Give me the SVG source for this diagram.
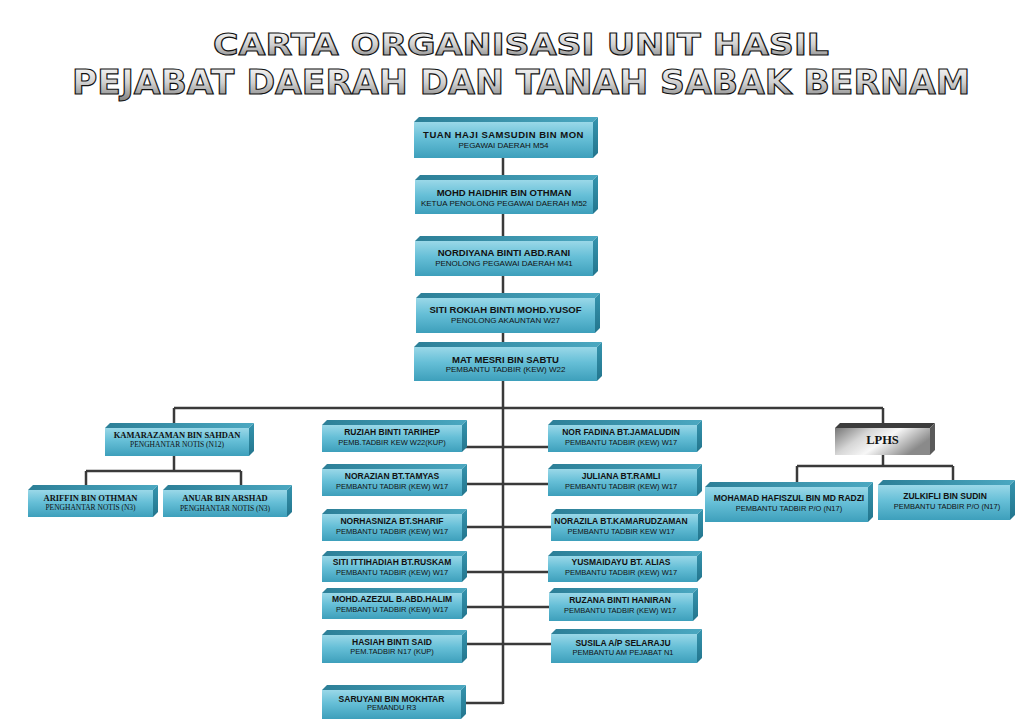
<svg xmlns="http://www.w3.org/2000/svg" width="1025" height="728" viewBox="0 0 1025 728">
<defs>
<linearGradient id="gFront" x1="0" y1="0" x2="0" y2="1">
<stop offset="0" stop-color="#9ad8e8"/><stop offset="0.45" stop-color="#66bfd7"/><stop offset="1" stop-color="#3d9fbb"/>
</linearGradient>
<linearGradient id="gTop" x1="0" y1="0" x2="1" y2="0">
<stop offset="0" stop-color="#2c7f97"/><stop offset="1" stop-color="#4ba8c1"/>
</linearGradient>
<linearGradient id="gSide" x1="0" y1="0" x2="0" y2="1">
<stop offset="0" stop-color="#3594ae"/><stop offset="1" stop-color="#23758d"/>
</linearGradient>
<linearGradient id="gGray" x1="0" y1="0" x2="1" y2="0.4">
<stop offset="0" stop-color="#767676"/><stop offset="0.35" stop-color="#d6d6d6"/><stop offset="0.6" stop-color="#f7f7f7"/><stop offset="1" stop-color="#8a8a8a"/>
</linearGradient>
<linearGradient id="gTitle" x1="0" y1="0" x2="0" y2="1">
<stop offset="0" stop-color="#ffffff"/><stop offset="0.5" stop-color="#d0d0d0"/><stop offset="1" stop-color="#7c7c7c"/>
</linearGradient>
</defs>
<style>
.front{fill:url(#gFront)}
.top{fill:url(#gTop)}
.side{fill:url(#gSide)}
.gfront{fill:url(#gGray)}
.gtop{fill:#3c3c3c}
.gside{fill:#5a5a5a}
.title{font-family:"DejaVu Sans","Liberation Sans",sans-serif;font-weight:bold;fill:url(#gTitle);stroke:#111;stroke-width:1.1}
.nm{font-family:"Liberation Sans",Arial,sans-serif;font-weight:bold;font-size:8.5px;fill:#111;text-anchor:middle}
.nmL{font-family:"Liberation Sans",Arial,sans-serif;font-weight:bold;font-size:9.5px;fill:#111;text-anchor:middle}
.sb{font-family:"Liberation Sans",Arial,sans-serif;font-size:7.5px;fill:#111;text-anchor:middle}
.sbL{font-family:"Liberation Sans",Arial,sans-serif;font-size:8px;fill:#111;text-anchor:middle}
.snm{font-family:"Liberation Serif","Times New Roman",serif;font-weight:bold;font-size:8.5px;fill:#111;text-anchor:middle}
.ssb{font-family:"Liberation Serif","Times New Roman",serif;font-size:7.5px;fill:#111;text-anchor:middle}
.conn{stroke:#3a3a3a;stroke-width:2.5;fill:none}
</style>
<rect x="0" y="0" width="1025" height="728" fill="#ffffff"/>
<g id="title">
<text class="title" x="213" y="55" font-size="30" textLength="616" lengthAdjust="spacingAndGlyphs">CARTA ORGANISASI UNIT HASIL</text>
<text class="title" x="72" y="94" font-size="33" textLength="898" lengthAdjust="spacingAndGlyphs">PEJABAT DAERAH DAN TANAH SABAK BERNAM</text>
</g>
<g id="connectors" class="conn">
<line x1="503" y1="158" x2="503" y2="704"/>
<line x1="174" y1="408" x2="883" y2="408"/>
<line x1="174" y1="408" x2="174" y2="424"/>
<line x1="174" y1="456" x2="174" y2="471"/>
<line x1="86" y1="471" x2="241" y2="471"/>
<line x1="86" y1="471" x2="86" y2="486"/>
<line x1="241" y1="471" x2="241" y2="486"/>
<line x1="883" y1="408" x2="883" y2="424"/>
<line x1="883" y1="455" x2="883" y2="466"/>
<line x1="797" y1="466" x2="953" y2="466"/>
<line x1="797" y1="466" x2="797" y2="483"/>
<line x1="953" y1="466" x2="953" y2="481"/>
<line x1="462" y1="447" x2="503" y2="447"/>
<line x1="462" y1="484" x2="503" y2="484"/>
<line x1="462" y1="527" x2="503" y2="527"/>
<line x1="462" y1="572" x2="503" y2="572"/>
<line x1="462" y1="607" x2="503" y2="607"/>
<line x1="462" y1="644" x2="503" y2="644"/>
<line x1="462" y1="703" x2="503" y2="703"/>
<line x1="503" y1="447" x2="548" y2="447"/>
<line x1="503" y1="484" x2="548" y2="484"/>
<line x1="503" y1="527" x2="551" y2="527"/>
<line x1="503" y1="572" x2="548" y2="572"/>
<line x1="503" y1="607" x2="549" y2="607"/>
<line x1="503" y1="644" x2="551" y2="644"/>
</g>
<g id="n-tuan">
<polygon class="top" points="414,122 419,117 598,117 593,122"/>
<polygon class="side" points="593,122 598,117 598,153 593,158"/>
<rect class="front" x="414" y="122" width="179" height="36"/>
<text class="nmL" x="503.5" y="138" letter-spacing="0.5">TUAN HAJI SAMSUDIN BIN MON</text>
<text class="sbL" x="503.5" y="147.5">PEGAWAI DAERAH M54</text>
</g>
<g id="n-haidhir">
<polygon class="top" points="415,180 420,175 598,175 593,180"/>
<polygon class="side" points="593,180 598,175 598,209 593,214"/>
<rect class="front" x="415" y="180" width="178" height="34"/>
<text class="nmL" x="504" y="195.5">MOHD HAIDHIR BIN OTHMAN</text>
<text class="sbL" x="504" y="205.5">KETUA PENOLONG PEGAWAI DAERAH M52</text>
</g>
<g id="n-nordiyana">
<polygon class="top" points="415,241 420,236 598,236 593,241"/>
<polygon class="side" points="593,241 598,236 598,271 593,276"/>
<rect class="front" x="415" y="241" width="178" height="35"/>
<text class="nmL" x="504" y="255.5">NORDIYANA BINTI ABD.RANI</text>
<text class="sbL" x="504" y="265.5">PENOLONG PEGAWAI DAERAH M41</text>
</g>
<g id="n-rokiah">
<polygon class="top" points="416,298 421,293 600,293 595,298"/>
<polygon class="side" points="595,298 600,293 600,328 595,333"/>
<rect class="front" x="416" y="298" width="179" height="35"/>
<text class="nmL" x="505.5" y="313.3">SITI ROKIAH BINTI MOHD.YUSOF</text>
<text class="sbL" x="505.5" y="323.3">PENOLONG AKAUNTAN W27</text>
</g>
<g id="n-mesri">
<polygon class="top" points="414,347 419,342 602,342 597,347"/>
<polygon class="side" points="597,347 602,342 602,376 597,381"/>
<rect class="front" x="414" y="347" width="183" height="34"/>
<text class="nmL" x="505.5" y="362.7">MAT MESRI BIN SABTU</text>
<text class="sbL" x="505.5" y="372.3">PEMBANTU TADBIR (KEW) W22</text>
</g>
<g id="n-kamarazaman">
<polygon class="top" points="105,428 110,423 254,423 249,428"/>
<polygon class="side" points="249,428 254,423 254,451 249,456"/>
<rect class="front" x="105" y="428" width="144" height="28"/>
<text class="snm" x="177" y="437.5">KAMARAZAMAN BIN SAHDAN</text>
<text class="ssb" x="177" y="447">PENGHANTAR NOTIS (N12)</text>
</g>
<g id="n-ariffin">
<polygon class="top" points="28,490 33,485 158,485 153,490"/>
<polygon class="side" points="153,490 158,485 158,512 153,517"/>
<rect class="front" x="28" y="490" width="125" height="27"/>
<text class="snm" x="90.5" y="500.7">ARIFFIN BIN OTHMAN</text>
<text class="ssb" x="90.5" y="510">PENGHANTAR NOTIS (N3)</text>
</g>
<g id="n-anuar">
<polygon class="top" points="163,490 168,485 292,485 287,490"/>
<polygon class="side" points="287,490 292,485 292,512 287,517"/>
<rect class="front" x="163" y="490" width="124" height="27"/>
<text class="snm" x="225" y="500.7">ANUAR BIN ARSHAD</text>
<text class="ssb" x="225" y="510.7">PENGHANTAR NOTIS (N3)</text>
</g>
<g id="n-ruziah">
<polygon class="top" points="322,425 327,420 467,420 462,425"/>
<polygon class="side" points="462,425 467,420 467,447 462,452"/>
<rect class="front" x="322" y="425" width="140" height="27"/>
<text class="nm" x="392" y="435">RUZIAH BINTI TARIHEP</text>
<text class="sb" x="392" y="444.5">PEMB.TADBIR KEW W22(KUP)</text>
</g>
<g id="n-norazian">
<polygon class="top" points="322,469 327,464 467,464 462,469"/>
<polygon class="side" points="462,469 467,464 467,491 462,496"/>
<rect class="front" x="322" y="469" width="140" height="27"/>
<text class="nm" x="392" y="479">NORAZIAN BT.TAMYAS</text>
<text class="sb" x="392" y="488.5">PEMBANTU TADBIR (KEW) W17</text>
</g>
<g id="n-norhasniza">
<polygon class="top" points="322,514 327,509 467,509 462,514"/>
<polygon class="side" points="462,514 467,509 467,536 462,541"/>
<rect class="front" x="322" y="514" width="140" height="27"/>
<text class="nm" x="392" y="524">NORHASNIZA BT.SHARIF</text>
<text class="sb" x="392" y="533.5">PEMBANTU TADBIR (KEW) W17</text>
</g>
<g id="n-ittihadiah">
<polygon class="top" points="322,556 327,551 467,551 462,556"/>
<polygon class="side" points="462,556 467,551 467,577 462,582"/>
<rect class="front" x="322" y="556" width="140" height="26"/>
<text class="nm" x="392" y="565">SITI ITTIHADIAH BT.RUSKAM</text>
<text class="sb" x="392" y="574.5">PEMBANTU TADBIR (KEW) W17</text>
</g>
<g id="n-azezul">
<polygon class="top" points="322,593 327,588 467,588 462,593"/>
<polygon class="side" points="462,593 467,588 467,614 462,619"/>
<rect class="front" x="322" y="593" width="140" height="26"/>
<text class="nm" x="392" y="602">MOHD.AZEZUL B.ABD.HALIM</text>
<text class="sb" x="392" y="611.7">PEMBANTU TADBIR (KEW) W17</text>
</g>
<g id="n-hasiah">
<polygon class="top" points="322,635 327,630 467,630 462,635"/>
<polygon class="side" points="462,635 467,630 467,658 462,663"/>
<rect class="front" x="322" y="635" width="140" height="28"/>
<text class="nm" x="392" y="645">HASIAH BINTI SAID</text>
<text class="sb" x="392" y="653.5">PEM.TADBIR N17 (KUP)</text>
</g>
<g id="n-saruyani">
<polygon class="top" points="322,690 327,685 466,685 461,690"/>
<polygon class="side" points="461,690 466,685 466,714 461,719"/>
<rect class="front" x="322" y="690" width="139" height="29"/>
<text class="nm" x="391.5" y="701.7">SARUYANI BIN MOKHTAR</text>
<text class="sb" x="391.5" y="710.3">PEMANDU R3</text>
</g>
<g id="n-norfadina">
<polygon class="top" points="548,425 553,420 702,420 697,425"/>
<polygon class="side" points="697,425 702,420 702,447 697,452"/>
<rect class="front" x="548" y="425" width="149" height="27"/>
<text class="nm" x="621" y="435">NOR FADINA BT.JAMALUDIN</text>
<text class="sb" x="621" y="444.5">PEMBANTU TADBIR (KEW) W17</text>
</g>
<g id="n-juliana">
<polygon class="top" points="548,469 553,464 702,464 697,469"/>
<polygon class="side" points="697,469 702,464 702,491 697,496"/>
<rect class="front" x="548" y="469" width="149" height="27"/>
<text class="nm" x="621" y="479">JULIANA BT.RAMLI</text>
<text class="sb" x="621" y="488.5">PEMBANTU TADBIR (KEW) W17</text>
</g>
<g id="n-norazila">
<polygon class="top" points="551,514 556,509 703,509 698,514"/>
<polygon class="side" points="698,514 703,509 703,536 698,541"/>
<rect class="front" x="551" y="514" width="147" height="27"/>
<text class="nm" x="621" y="524">NORAZILA BT.KAMARUDZAMAN</text>
<text class="sb" x="621" y="533.5">PEMBANTU TADBIR KEW W17</text>
</g>
<g id="n-yusmaidayu">
<polygon class="top" points="548,556 553,551 702,551 697,556"/>
<polygon class="side" points="697,556 702,551 702,577 697,582"/>
<rect class="front" x="548" y="556" width="149" height="26"/>
<text class="nm" x="621" y="565">YUSMAIDAYU BT. ALIAS</text>
<text class="sb" x="621" y="574.5">PEMBANTU TADBIR (KEW) W17</text>
</g>
<g id="n-ruzana">
<polygon class="top" points="549,593 554,588 698,588 693,593"/>
<polygon class="side" points="693,593 698,588 698,616 693,621"/>
<rect class="front" x="549" y="593" width="144" height="28"/>
<text class="nm" x="620" y="603">RUZANA BINTI HANIRAN</text>
<text class="sb" x="620" y="612.5">PEMBANTU TADBIR (KEW) W17</text>
</g>
<g id="n-susila">
<polygon class="top" points="551,634 556,629 702,629 697,634"/>
<polygon class="side" points="697,634 702,629 702,658 697,663"/>
<rect class="front" x="551" y="634" width="146" height="29"/>
<text class="nm" x="623" y="645.5">SUSILA A/P SELARAJU</text>
<text class="sb" x="623" y="654.5">PEMBANTU AM PEJABAT N1</text>
</g>
<g id="n-lphs">
<polygon class="gtop" points="835,428 840,423 935,423 930,428"/>
<polygon class="gside" points="930,428 935,423 935,450 930,455"/>
<rect class="gfront" x="835" y="428" width="95" height="27"/>
<text x="882.5" y="444" font-family="'Liberation Serif','Times New Roman',serif" font-weight="bold" font-size="12.5" fill="#111" text-anchor="middle">LPHS</text>
</g>
<g id="n-hafiszul">
<polygon class="top" points="705,487 710,482 873,482 868,487"/>
<polygon class="side" points="868,487 873,482 873,517 868,522"/>
<rect class="front" x="705" y="487" width="163" height="35"/>
<text class="nm" x="789" y="501">MOHAMAD HAFISZUL BIN MD RADZI</text>
<text class="sb" x="789" y="510.7">PEMBANTU TADBIR P/O (N17)</text>
</g>
<g id="n-zulkifli">
<polygon class="top" points="878,485 883,480 1015,480 1010,485"/>
<polygon class="side" points="1010,485 1015,480 1015,515 1010,520"/>
<rect class="front" x="878" y="485" width="132" height="35"/>
<text class="nm" x="945" y="498.5">ZULKIFLI BIN SUDIN</text>
<text class="sb" x="947" y="509">PEMBANTU TADBIR P/O (N17)</text>
</g>
</svg>
